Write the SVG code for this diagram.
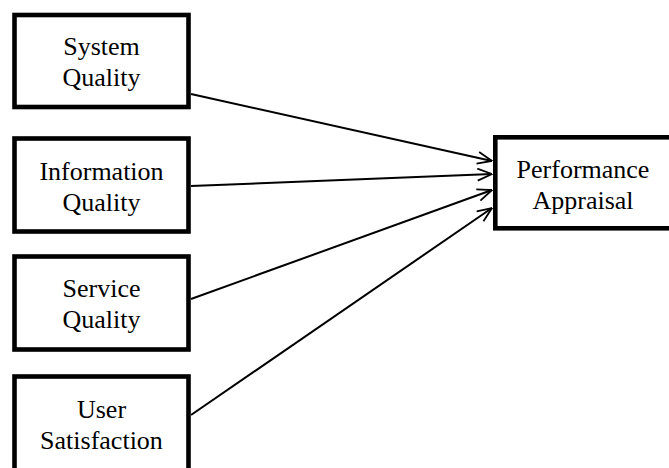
<svg xmlns="http://www.w3.org/2000/svg" width="669" height="468" viewBox="0 0 669 468">
  <defs>
    <marker id="arrow" viewBox="0 0 16 14" refX="15.5" refY="7" markerWidth="16" markerHeight="14" markerUnits="userSpaceOnUse" orient="auto">
      <path d="M1,1 L15.5,7 L1,13" fill="none" stroke="#000" stroke-width="1.8" stroke-linejoin="miter"/>
    </marker>
    <style>
      .box { fill: #fff; stroke: #000; stroke-width: 4.6; }
      .label { font-family: "Liberation Serif", "Times New Roman", serif; font-size: 26px; fill: #000; text-anchor: middle; }
      .edge { stroke: #000; stroke-width: 2; fill: none; marker-end: url(#arrow); }
    </style>
  </defs>
  <rect width="669" height="468" fill="#fff"/>

  <g id="connectors">
    <line class="edge" x1="191" y1="94" x2="492" y2="161"/>
    <line class="edge" x1="191" y1="186" x2="492" y2="174"/>
    <line class="edge" x1="191" y1="299" x2="492" y2="190"/>
    <line class="edge" x1="191" y1="415" x2="492" y2="208"/>
  </g>

  <g id="system-quality">
    <rect class="box" x="14.5" y="15" width="174" height="92"/>
    <text class="label" x="101.5" y="55">System</text>
    <text class="label" x="101.5" y="86">Quality</text>
  </g>

  <g id="information-quality">
    <rect class="box" x="14.5" y="138.5" width="174" height="93"/>
    <text class="label" x="101.5" y="180">Information</text>
    <text class="label" x="101.5" y="211">Quality</text>
  </g>

  <g id="service-quality">
    <rect class="box" x="14.5" y="256.5" width="174" height="93"/>
    <text class="label" x="101.5" y="297">Service</text>
    <text class="label" x="101.5" y="328">Quality</text>
  </g>

  <g id="user-satisfaction">
    <rect class="box" x="14.5" y="376.5" width="174" height="100"/>
    <text class="label" x="101.5" y="418">User</text>
    <text class="label" x="101.5" y="449">Satisfaction</text>
  </g>

  <g id="performance-appraisal">
    <rect class="box" x="495.3" y="137.3" width="200" height="91"/>
    <text class="label" x="583" y="178">Performance</text>
    <text class="label" x="583" y="209">Appraisal</text>
  </g>
</svg>
